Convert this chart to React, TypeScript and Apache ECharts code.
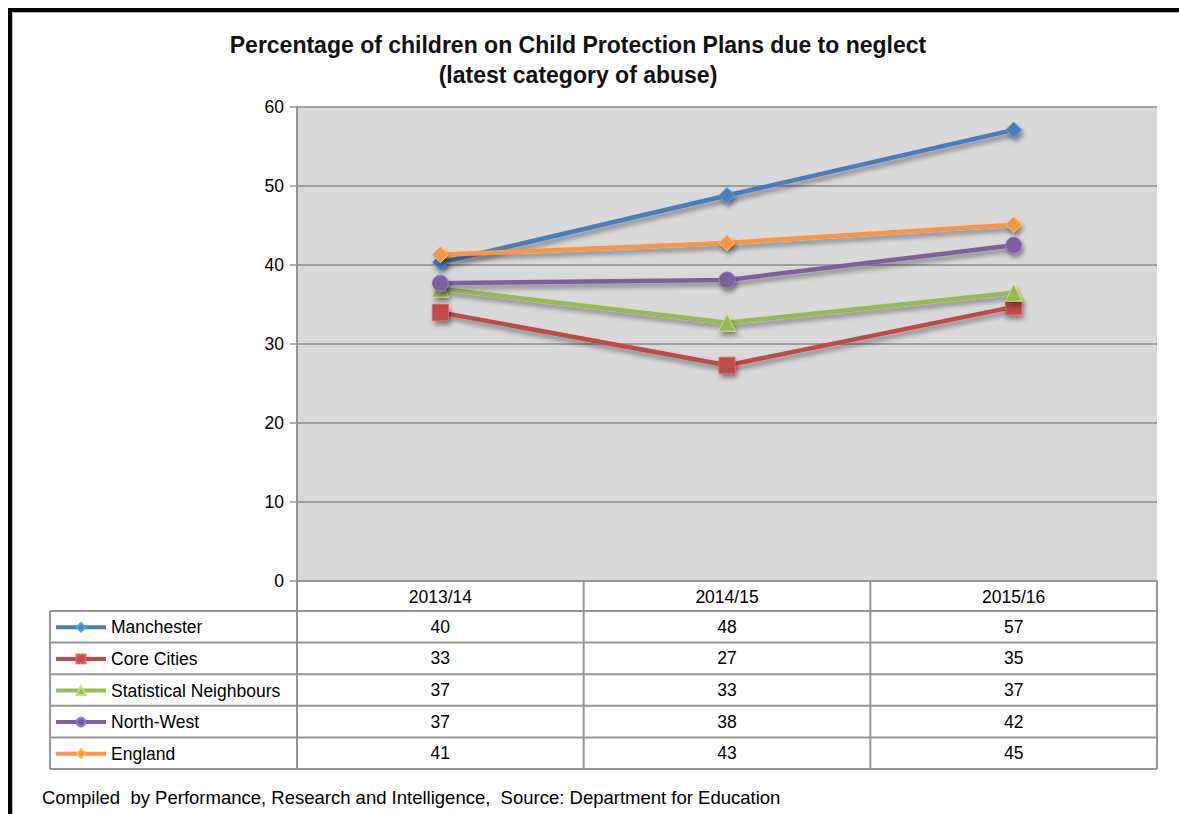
import React, { useEffect, useRef } from "react";
import * as echarts from "echarts";

const categories = ["2013/14", "2014/15", "2015/16"];
const seriesNames = ["Manchester", "Core Cities", "Statistical Neighbours", "North-West", "England"];
const manchester = [40.3, 48.8, 57.1];
const coreCities = [34.0, 27.3, 34.7];
const statNeighbours = [37.0, 32.7, 36.5];
const northWest = [37.7, 38.1, 42.5];
const england = [41.3, 42.8, 45.1];
const tableManchester = [40, 48, 57];
const tableCoreCities = [33, 27, 35];
const tableStatNeighbours = [37, 33, 37];
const tableNorthWest = [37, 38, 42];
const tableEngland = [41, 43, 45];
const yMin = 0;
const yMax = 60;
const yInterval = 10;

const titleText = "Percentage of children on Child Protection Plans due to neglect\n(latest category of abuse)";
const footerText = "Compiled  by Performance, Research and Intelligence,  Source: Department for Education";

const colors = ["#4a7ebb", "#be4b48", "#98b954", "#7d60a0", "#f79646"];
const symbols = ["diamond", "rect", "triangle", "circle", "diamond"];

const FONT = "'Liberation Sans', Arial, sans-serif";
const GRID_LEFT = 297;
const GRID_TOP = 107;
const GRID_W = 860;
const GRID_H = 474;
const TABLE_LEFT = 50;
const HEADER_H = 30;
const ROW_H = 31.6;
const LINE_COLOR = "#959595";
const FS = 17.5;

export default function App() {
  const ref = useRef<HTMLDivElement>(null);
  useEffect(() => {
    if (!ref.current) return;
    const chart = echarts.init(ref.current, undefined, { renderer: "svg" });
    const allData = [manchester, coreCities, statNeighbours, northWest, england];
    const tableData = [tableManchester, tableCoreCities, tableStatNeighbours, tableNorthWest, tableEngland];

    const graphics: any[] = [];
    const tableTop = GRID_TOP + GRID_H;
    const rowsTop = tableTop + HEADER_H;
    const tableBottom = rowsTop + ROW_H * seriesNames.length;
    const colW = GRID_W / categories.length;
    const lineStyle = { stroke: LINE_COLOR, lineWidth: 2 };
    for (let r = 0; r <= seriesNames.length; r++) {
      const y = rowsTop + r * ROW_H;
      graphics.push({ type: "line", shape: { x1: TABLE_LEFT, y1: y, x2: GRID_LEFT + GRID_W, y2: y }, style: lineStyle, z: 10 });
    }
    graphics.push({ type: "line", shape: { x1: GRID_LEFT, y1: tableTop, x2: GRID_LEFT + GRID_W, y2: tableTop }, style: lineStyle, z: 10 });
    graphics.push({ type: "line", shape: { x1: TABLE_LEFT, y1: rowsTop, x2: TABLE_LEFT, y2: tableBottom }, style: lineStyle, z: 10 });
    for (let c = 0; c <= categories.length; c++) {
      const x = GRID_LEFT + c * colW;
      graphics.push({ type: "line", shape: { x1: x, y1: tableTop, x2: x, y2: tableBottom }, style: lineStyle, z: 10 });
    }
    tableData.forEach((row, r) => {
      row.forEach((v, c) => {
        graphics.push({
          type: "text",
          x: GRID_LEFT + (c + 0.5) * colW,
          y: rowsTop + (r + 0.5) * ROW_H,
          style: { text: String(v), fontSize: FS, fontFamily: FONT, fill: "#000", textAlign: "center", textVerticalAlign: "middle" },
          z: 10,
        });
      });
    });
    graphics.push({ type: "rect", shape: { x: 8, y: 8, width: 1171, height: 4 }, style: { fill: "#000" }, z: 20 });
    graphics.push({ type: "rect", shape: { x: 8, y: 8, width: 4, height: 806 }, style: { fill: "#000" }, z: 20 });
    graphics.push({ type: "rect", shape: { x: 12, y: 12, width: 1167, height: 1 }, style: { fill: "#bbb" }, z: 20 });
    graphics.push({ type: "rect", shape: { x: 12, y: 12, width: 1, height: 802 }, style: { fill: "#bbb" }, z: 20 });
    graphics.push({
      type: "text",
      x: 42,
      y: 797,
      style: { text: footerText, fontSize: 18.5, fontFamily: FONT, fill: "#000", textVerticalAlign: "middle" },
    });

    const legends = seriesNames.map((name, r) => ({
      orient: "horizontal",
      left: TABLE_LEFT + 4,
      top: rowsTop + r * ROW_H + (ROW_H - 14) / 2 - 1.5,
      itemWidth: 50,
      itemHeight: 11,
      itemGap: 0,
      padding: 0,
      lineStyle: { width: 4, shadowBlur: 0, shadowOffsetX: 0, shadowOffsetY: 0 },
      itemStyle: { shadowBlur: 0, shadowOffsetX: 0, shadowOffsetY: 0 },
      textStyle: { fontSize: FS, color: "#000", fontFamily: FONT, lineHeight: 14 },
      data: [name],
    }));

    chart.setOption({
      animation: false,
      backgroundColor: "#fff",
      textStyle: { fontFamily: FONT },
      title: {
        text: titleText,
        left: 578,
        top: 30,
        padding: 0,
        textAlign: "center",
        textStyle: { fontSize: 23, fontWeight: "bold", color: "#111", lineHeight: 30, fontFamily: FONT },
      },
      legend: legends,
      grid: {
        left: GRID_LEFT,
        top: GRID_TOP,
        width: GRID_W,
        height: GRID_H,
        show: true,
        backgroundColor: "#d9d9d9",
        borderWidth: 0,
      },
      xAxis: {
        type: "category",
        data: categories,
        boundaryGap: true,
        axisLine: { show: true, lineStyle: { color: LINE_COLOR, width: 2 } },
        axisTick: { show: false },
        axisLabel: { fontSize: FS, color: "#000", margin: 7, fontFamily: FONT },
      },
      yAxis: {
        type: "value",
        min: yMin,
        max: yMax,
        interval: yInterval,
        axisLine: { show: true, lineStyle: { color: LINE_COLOR, width: 2 } },
        axisTick: { show: true, length: 7, lineStyle: { color: LINE_COLOR, width: 1.5 } },
        axisLabel: { fontSize: FS, color: "#000", margin: 13, fontFamily: FONT },
        splitLine: { show: true, lineStyle: { color: "#8a8a8a", width: 1.5 } },
      },
      graphic: graphics,
      series: seriesNames.map((name, i) => ({
        name,
        type: "line",
        data: allData[i],
        symbol: symbols[i],
        symbolSize: i === 2 ? 17 : 16,
        color: colors[i],
        lineStyle: {
          width: 4.5,
          color: colors[i],
          shadowBlur: 5,
          shadowColor: "rgba(0,0,0,0.4)",
          shadowOffsetX: 2,
          shadowOffsetY: 4,
        },
        itemStyle: {
          color: colors[i],
          borderColor: echarts.color.lift(colors[i], -0.25),
          borderWidth: 1,
          shadowBlur: 5,
          shadowColor: "rgba(0,0,0,0.4)",
          shadowOffsetX: 2,
          shadowOffsetY: 4,
        },
        z: 2 + i,
      })),
    });
    return () => chart.dispose();
  }, []);
  return <div ref={ref} style={{ position: "fixed", left: 0, top: 0, width: 1179, height: 814 }} />;
}
